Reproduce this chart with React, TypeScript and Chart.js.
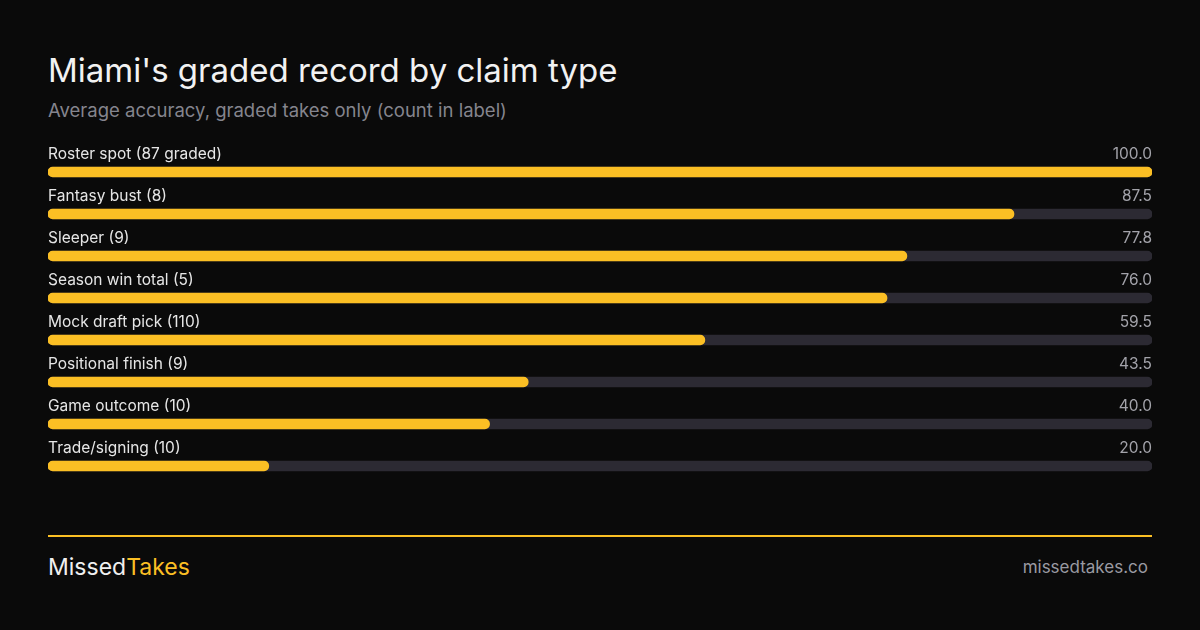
import { useEffect, useRef } from "react";
import { Chart, registerables } from "chart.js";
import type { ChartConfiguration, Plugin } from "chart.js";

Chart.register(...registerables);

const CATEGORIES = [
  "Roster spot (87 graded)",
  "Fantasy bust (8)",
  "Sleeper (9)",
  "Season win total (5)",
  "Mock draft pick (110)",
  "Positional finish (9)",
  "Game outcome (10)",
  "Trade/signing (10)",
];
const ACCURACY = [100.0, 87.5, 77.8, 76.0, 59.5, 43.5, 40.0, 20.0];
const TRACK = CATEGORIES.map(() => 100);

const AMBER = "#fbbf24";
const TRACK_COLOR = "#2c2a33";
const FONT = "Inter, 'Noto Sans', sans-serif";

const rowLabels: Plugin<"bar"> = {
  id: "rowLabels",
  afterDatasetsDraw(chart) {
    const { ctx, chartArea, scales } = chart;
    ctx.save();
    ctx.font = `15.5px ${FONT}`;
    ctx.textBaseline = "middle";
    CATEGORIES.forEach((label, i) => {
      const y = scales.y.getPixelForValue(i) - 18;
      ctx.fillStyle = "#e6e6e6";
      ctx.textAlign = "left";
      ctx.fillText(label, chartArea.left, y);
      ctx.fillStyle = "#a3a3aa";
      ctx.textAlign = "right";
      ctx.fillText(ACCURACY[i].toFixed(1), chartArea.right, y);
    });
    ctx.restore();
  },
};

const ClaimBars = () => {
  const canvasRef = useRef<HTMLCanvasElement | null>(null);
  const chartRef = useRef<Chart<"bar", number[], string> | null>(null);

  useEffect(() => {
    if (!canvasRef.current) return;
    chartRef.current?.destroy();

    const config: ChartConfiguration<"bar", number[], string> = {
      type: "bar",
      data: {
        labels: CATEGORIES,
        datasets: [
          {
            data: ACCURACY,
            backgroundColor: AMBER,
            barThickness: 10,
            borderRadius: 5,
            borderSkipped: false,
            grouped: false,
          },
          {
            data: TRACK,
            backgroundColor: TRACK_COLOR,
            barThickness: 10,
            borderRadius: 5,
            borderSkipped: false,
            grouped: false,
          },
        ],
      },
      options: {
        indexAxis: "y",
        responsive: true,
        maintainAspectRatio: false,
        animation: false,
        layout: { padding: { top: 21, left: 0, right: 0, bottom: 0 } },
        plugins: {
          legend: { display: false },
          tooltip: { enabled: false },
        },
        scales: {
          x: { display: false, min: 0, max: 100 },
          y: { display: false },
        },
      },
      plugins: [rowLabels],
    };

    chartRef.current = new Chart(canvasRef.current, config);
    return () => chartRef.current?.destroy();
  }, []);

  return (
    <div style={{ position: "absolute", left: 48, top: 130, width: 1104, height: 357 }}>
      <canvas ref={canvasRef} />
    </div>
  );
};

export default function App() {
  return (
    <div
      style={{
        position: "fixed",
        inset: 0,
        width: 1200,
        height: 630,
        background: "#0a0a0a",
        fontFamily: FONT,
        overflow: "hidden",
      }}
    >
      <div
        style={{
          position: "absolute",
          left: 48,
          top: 50,
          fontSize: 33,
          color: "#f2f2f2",
          lineHeight: "40px",
          whiteSpace: "nowrap",
        }}
      >
        Miami's graded record by claim type
      </div>
      <div
        style={{
          position: "absolute",
          left: 48,
          top: 98,
          fontSize: 18.5,
          color: "#85858e",
          lineHeight: "24px",
          whiteSpace: "nowrap",
        }}
      >
        Average accuracy, graded takes only (count in label)
      </div>

      <ClaimBars />

      <div
        style={{
          position: "absolute",
          left: 48,
          top: 535,
          width: 1104,
          height: 2,
          background: AMBER,
        }}
      />
      <div
        style={{
          position: "absolute",
          left: 48,
          top: 552,
          fontSize: 23,
          lineHeight: "30px",
          whiteSpace: "nowrap",
        }}
      >
        <span style={{ color: "#f0f0f0" }}>Missed</span>
        <span style={{ color: AMBER }}>Takes</span>
      </div>
      <div
        style={{
          position: "absolute",
          right: 52,
          top: 555,
          fontSize: 17,
          color: "#9a9aa2",
          lineHeight: "24px",
          whiteSpace: "nowrap",
        }}
      >
        missedtakes.co
      </div>
    </div>
  );
}
